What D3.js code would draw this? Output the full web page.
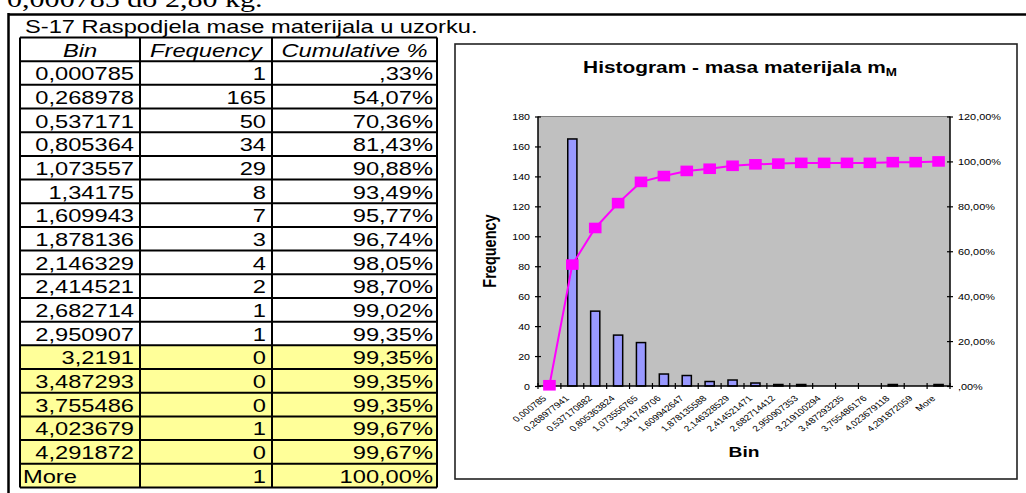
<!DOCTYPE html>
<html><head><meta charset="utf-8">
<script src="https://cdn.jsdelivr.net/npm/d3@7/dist/d3.min.js"></script>
<style>html,body{margin:0;padding:0;background:#fff;}svg{display:block;}</style>
</head><body>
<svg id="c" width="1026" height="493"></svg>
<script>
// ---------- data ----------
const tableBins = ["0,000785","0,268978","0,537171","0,805364","1,073557","1,34175","1,609943","1,878136","2,146329","2,414521","2,682714","2,950907","3,2191","3,487293","3,755486","4,023679","4,291872","More"];
const chartBins = ["0,000785","0,268977941","0,537170882","0,805363824","1,073556765","1,341749706","1,609942647","1,878135588","2,146328529","2,414521471","2,682714412","2,950907353","3,219100294","3,487293235","3,755486176","4,023679118","4,291872059","More"];
const frequency = [1,165,50,34,29,8,7,3,4,2,1,1,0,0,0,1,0,1];
const cumulative = [0.33,54.07,70.36,81.43,90.88,93.49,95.77,96.74,98.05,98.70,99.02,99.35,99.35,99.35,99.35,99.67,99.67,100.00];
const cumulativeText = [",33%","54,07%","70,36%","81,43%","90,88%","93,49%","95,77%","96,74%","98,05%","98,70%","99,02%","99,35%","99,35%","99,35%","99,35%","99,67%","99,67%","100,00%"];
const headers = ["Bin","Frequency","Cumulative %"];
const leftTicks = [0,20,40,60,80,100,120,140,160,180];
const rightTicks = [0,20,40,60,80,100,120];
const rightTickLabels = [",00%","20,00%","40,00%","60,00%","80,00%","100,00%","120,00%"];
const highlightFrom = 12;

// ---------- helpers ----------
const SX = 1.28;
const svg = d3.select("#c");
const SANS = "'Liberation Sans', Arial, sans-serif";
function stext(g, x, y, str, o) {
  o = o || {};
  const t = g.append("text")
    .attr("transform", `translate(${x},${y}) scale(${SX},1)` + (o.rot ? ` rotate(${o.rot})` : ""))
    .attr("text-anchor", o.anchor || "start")
    .attr("font-family", o.family || SANS)
    .attr("font-size", o.size || 12)
    .attr("fill", o.fill || "#000");
  if (o.weight) t.attr("font-weight", o.weight);
  if (o.style) t.attr("font-style", o.style);
  if (o.dy) t.attr("dy", o.dy);
  t.text(str);
  return t;
}

// ---------- page text & frame ----------
stext(svg, 7, 7, "0,000785 do 2,80 kg.", {family: "'Liberation Serif', 'Times New Roman', serif", size: 23.5});
svg.append("line").attr("x1", 8).attr("x2", 1026).attr("y1", 14.5).attr("y2", 14.5).attr("stroke", "#000").attr("stroke-width", 2.5);
svg.append("line").attr("x1", 8.5).attr("x2", 8.5).attr("y1", 13).attr("y2", 493).attr("stroke", "#000").attr("stroke-width", 2.5);
stext(svg, 25, 33, "S-17 Raspodjela mase materijala u uzorku.", {size: 18.5});

// ---------- table ----------
const colX = [20, 140, 272, 437];
const tTop = 37.5, rowH = 23.68;
const tbl = svg.append("g");
const rowY = d3.range(tableBins.length + 2).map(i => tTop + i * rowH);
tableBins.forEach((b, i) => {
  if (i >= highlightFrom) {
    tbl.append("rect").attr("x", colX[0]).attr("y", rowY[i + 1]).attr("width", colX[3] - colX[0]).attr("height", rowH).attr("fill", "#FFFF99");
  }
});
headers.forEach((h, j) => {
  stext(tbl, (colX[j] + colX[j + 1]) / 2, tTop + 19, h, {size: 18.5, anchor: "middle", style: "italic"});
});
tableBins.forEach((b, i) => {
  const by = rowY[i + 1] + 19;
  if (b === "More") stext(tbl, colX[0] + 3, by, b, {size: 18.5});
  else stext(tbl, colX[1] - 6, by, b, {size: 18.5, anchor: "end"});
  stext(tbl, colX[2] - 6, by, String(frequency[i]), {size: 18.5, anchor: "end"});
  stext(tbl, colX[3] - 4, by, cumulativeText[i], {size: 18.5, anchor: "end"});
});
rowY.forEach(y => tbl.append("line").attr("x1", colX[0]).attr("x2", colX[3]).attr("y1", y).attr("y2", y).attr("stroke", "#000").attr("stroke-width", 2));
colX.forEach(x => tbl.append("line").attr("x1", x).attr("x2", x).attr("y1", tTop).attr("y2", rowY[rowY.length - 1]).attr("stroke", "#000").attr("stroke-width", 2));

// ---------- chart ----------
const box = {x: 455, y: 44, w: 562, h: 435};
svg.append("rect").attr("x", box.x).attr("y", box.y).attr("width", box.w).attr("height", box.h).attr("fill", "#fff").attr("stroke", "#222").attr("stroke-width", 1.6);
const P = {l: 538, r: 950, t: 116.5, b: 386};
const x = d3.scaleBand().domain(chartBins).range([P.l, P.r]).padding(0);
const y = d3.scaleLinear().domain([0, 180]).range([P.b, P.t]);
const y2 = d3.scaleLinear().domain([0, 120]).range([P.b, P.t]);

svg.append("rect").attr("x", P.l).attr("y", P.t).attr("width", P.r - P.l).attr("height", P.b - P.t).attr("fill", "#C0C0C0");
svg.append("line").attr("x1", P.l).attr("x2", P.r).attr("y1", P.t).attr("y2", P.t).attr("stroke", "#808080").attr("stroke-width", 1.2);

// bars
const bw = x.bandwidth() / 2.5;
svg.append("g").selectAll("rect").data(chartBins.filter((d, i) => frequency[i] > 0)).join("rect")
  .attr("x", d => x(d) + x.bandwidth() / 2 - bw / 2)
  .attr("y", d => y(frequency[chartBins.indexOf(d)]))
  .attr("width", bw)
  .attr("height", d => P.b - y(frequency[chartBins.indexOf(d)]))
  .attr("fill", "#9999FF").attr("stroke", "#000").attr("stroke-width", 1.5);

// left axis
const ga = svg.append("g").attr("transform", `translate(${P.l},0)`).call(d3.axisLeft(y).tickValues(leftTicks).tickSize(3).tickFormat(d3.format("d")));
ga.select(".domain").attr("stroke", "#000").attr("stroke-width", 1.5).attr("d", `M0,${P.t}V${P.b}`);
ga.selectAll(".tick line").attr("x1", 3).attr("x2", -3).attr("stroke", "#000").attr("stroke-width", 1.2);
ga.selectAll(".tick text").attr("x", null).attr("dy", null).attr("fill", "#000").attr("font-family", SANS).attr("font-size", 8.3)
  .attr("text-anchor", "end").attr("dominant-baseline", "central").attr("transform", `translate(-8,0) scale(${SX},1)`);

// right axis
const gr = svg.append("g").attr("transform", `translate(${P.r},0)`).call(d3.axisRight(y2).tickValues(rightTicks).tickSize(3).tickFormat((d, i) => rightTickLabels[i]));
gr.select(".domain").attr("stroke", "#000").attr("stroke-width", 1.5).attr("d", `M0,${P.t}V${P.b}`);
gr.selectAll(".tick line").attr("x1", -3).attr("x2", 3).attr("stroke", "#000").attr("stroke-width", 1.2);
gr.selectAll(".tick text").attr("x", null).attr("dy", null).attr("fill", "#000").attr("font-family", SANS).attr("font-size", 8.5)
  .attr("text-anchor", "start").attr("dominant-baseline", "central").attr("transform", `translate(8,0) scale(${SX},1)`);

// bottom axis
const gb = svg.append("g").attr("transform", `translate(0,${P.b})`).call(d3.axisBottom(x).tickSize(0).tickFormat(""));
gb.select(".domain").attr("stroke", "#000").attr("stroke-width", 1.5).attr("d", `M${P.l},0H${P.r}`);
gb.selectAll(".tick").remove();
const bounds = chartBins.map(d => x(d)).concat([P.r]);
gb.selectAll("line.bt").data(bounds).join("line").attr("class", "bt")
  .attr("x1", d => d).attr("x2", d => d).attr("y1", -3).attr("y2", 3).attr("stroke", "#000").attr("stroke-width", 1.2);
const xl = svg.append("g");
chartBins.forEach(d => {
  stext(xl, x(d) + x.bandwidth() / 2 - 5, P.b + 11, d, {size: 8, anchor: "end", rot: -45, dy: "0.35em"});
});

// cumulative line
const line = d3.line().x((d, i) => x(chartBins[i]) + x.bandwidth() / 2).y(d => y2(d));
svg.append("path").datum(cumulative).attr("d", line).attr("fill", "none").attr("stroke", "#FF00FF").attr("stroke-width", 2);
svg.append("g").selectAll("rect").data(cumulative).join("rect")
  .attr("x", (d, i) => x(chartBins[i]) + x.bandwidth() / 2 - 6.3)
  .attr("y", d => y2(d) - 5.3)
  .attr("width", 12.6).attr("height", 10.6).attr("fill", "#FF00FF");

// titles
const tt = stext(svg, 740, 73, "Histogram - masa materijala m", {size: 16.3, weight: "bold", anchor: "middle"});
tt.append("tspan").attr("font-size", 10.5).attr("dy", 2.5).text("M");
stext(svg, 744, 457, "Bin", {size: 15, weight: "bold", anchor: "middle"});
stext(svg, 496, 251, "Frequency", {size: 14.5, weight: "bold", anchor: "middle", rot: -90});
</script>
</body></html>
